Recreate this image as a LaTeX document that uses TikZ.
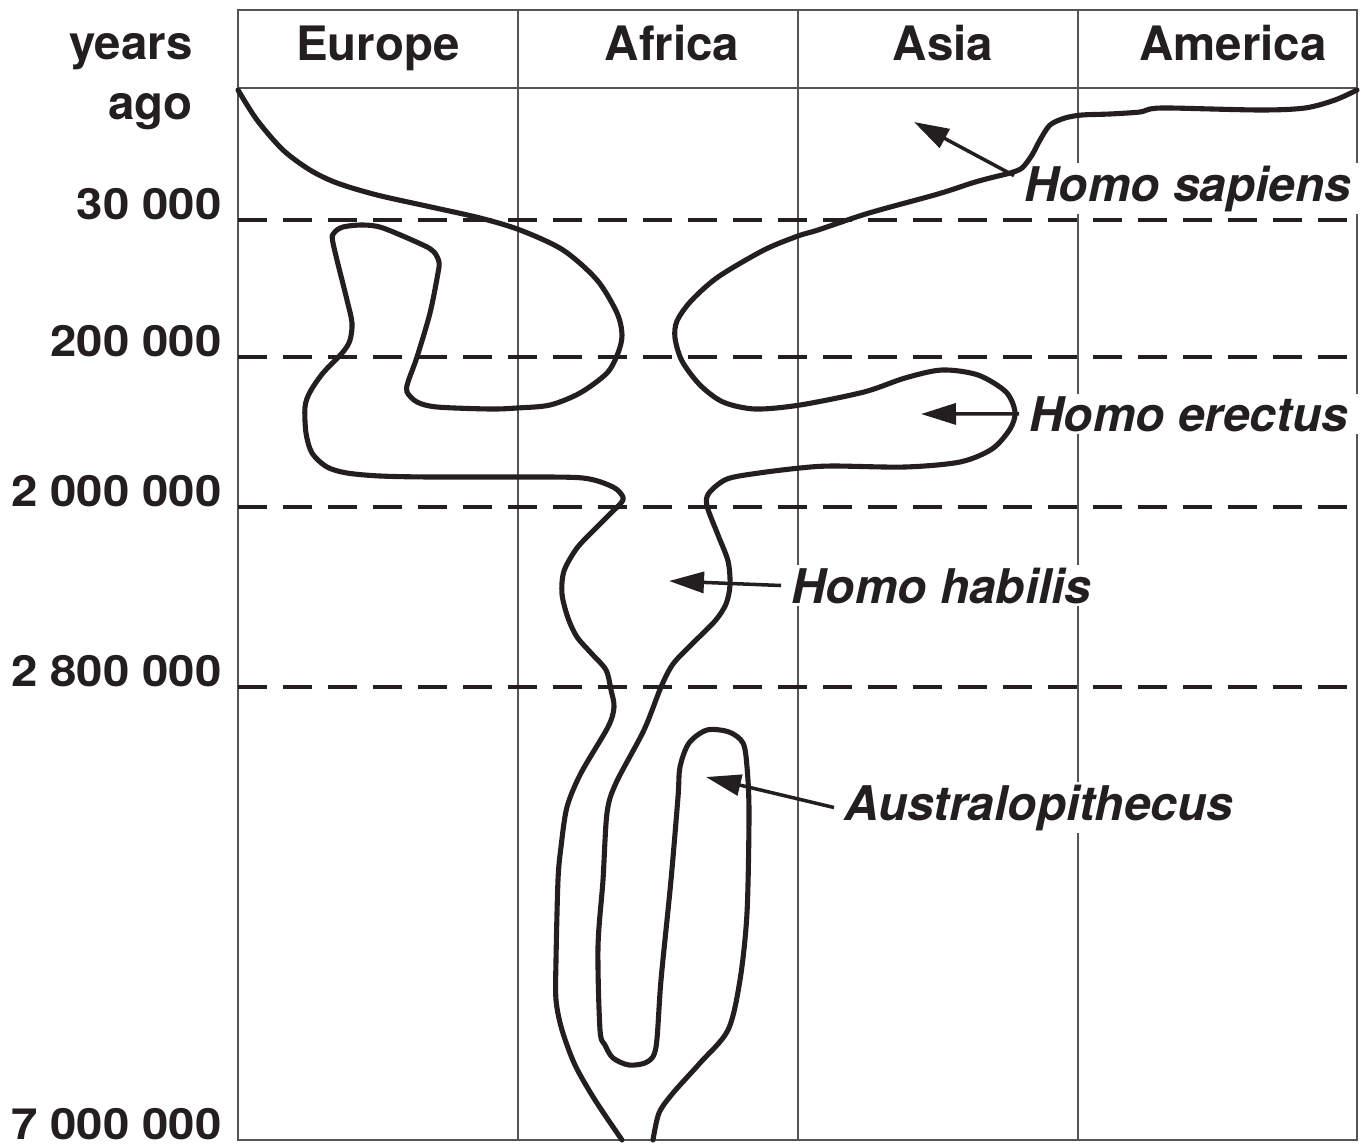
\documentclass[tikz,border=0pt]{standalone}
\usepackage{fontspec}
\setmainfont{TeX Gyre Heros}
\newfontfamily\numfont[FakeStretch=1.1]{TeX Gyre Heros}
\usetikzlibrary{arrows.meta, calc}
\definecolor{ink}{HTML}{231F20}
\definecolor{gridgray}{HTML}{555555}

\begin{document}
\begin{tikzpicture}[x=0.02cm, y=-0.02cm,
    gridline/.style={gridgray, line width=0.7pt},
    timeline/.style={ink, line width=2.2pt, dash pattern=on 0.58cm off 0.32cm},
    lineage/.style={ink, line width=2.9pt, smooth, line join=round, line cap=round},
    head/.style={font=\bfseries\fontsize{27}{34}\selectfont, text=ink, inner sep=0pt},
    age/.style={font=\numfont\bfseries\fontsize{24.5}{29}\selectfont, text=ink, anchor=base east, inner sep=0pt},
    species/.style={font=\bfseries\itshape\fontsize{27.2}{31}\selectfont, text=ink, fill=white,
                    anchor=base west, inner xsep=0.2cm, inner ysep=0.05cm},
    ptr/.style={ink, line width=2pt, -{Triangle[length=0.7cm, width=0.42cm]}}]
    \useasboundingbox (0,0) rectangle (1365,1146);

    % Table frame
    \draw[gridline] (238,10) rectangle (1357,1140);
    \draw[gridline] (238,88) -- (1357,88);
    \draw[gridline] (518,10) -- (518,1140);
    \draw[gridline] (798,10) -- (798,1140);
    \draw[gridline] (1078,10) -- (1078,1140);

    % Continents
    \node[head, anchor=base] (europe) at (378,60) {Europe};
    \node[head, anchor=base] (africa) at (672,60) {Africa};
    \node[head, anchor=base] (asia) at (943,60) {Asia};
    \node[head, anchor=base] (america) at (1233,60) {America};

    % Time scale
    \node[head, anchor=base east, align=right] (yearsago) at (193,119) {years\\ago};
    \draw[timeline] (238,220) -- (1357,220);
    \draw[timeline] (238,357) -- (1357,357);
    \draw[timeline] (238,507) -- (1357,507);
    \draw[timeline] (238,687) -- (1357,687);
    \node[age] (t30k) at (222,219) {30 000};
    \node[age] (t200k) at (222,356) {200 000};
    \node[age] (t2m) at (222,506) {2 000 000};
    \node[age] (t28m) at (222,686) {2 800 000};
    \node[age] (t7m) at (222,1139) {7 000 000};

    % Species labels
    \node[species] (sapiens) at (1014,201) {Homo sapiens};
    \node[species] (erectus) at (1019,431) {Homo erectus};
    \node[species] (habilis) at (781,603) {Homo habilis};
    \node[species] (austral) at (834,820) {Australopithecus};

    % Left outline
    \draw[lineage] plot coordinates {(238,90) (257,120) (283,150) (310,170) (337,183)
        (377,195) (431,207) (480,218) (520,230) (563,250) (597,280) (617,313)
        (622,335) (618,353) (607,373) (580,393) (550,405) (517,408) (490,409)
        (437,407) (417,402) (407,392) (408,382) (417,357) (430,313) (438,273)
        (439,262) (434,252) (423,245) (383,228) (363,225) (343,227) (334,233)
        (333,243) (347,300) (352,323) (350,340) (343,352) (323,373) (310,392)
        (305,407) (306,433) (312,453) (327,467) (347,473) (380,476) (430,477)
        (517,477) (583,478) (613,487) (623,497) (621,503) (612,512) (596,528)
        (577,548) (564,571) (562,594) (568,618) (577,637) (592,654) (606,670)
        (611,690) (614,707) (608,727) (581,773) (567,807) (561,847) (558,880)
        (556,960) (556,1000) (562,1030) (575,1065) (595,1100) (622,1140)};

    % Right outline
    \draw[lineage] plot coordinates {(1357,90) (1335,100) (1305,108) (1260,110)
        (1170,108) (1150,109) (1140,112) (1110,114) (1082,115) (1065,118)
        (1050,125) (1040,140) (1032,155) (1022,168) (1010,173) (990,178)
        (972,183) (938,194) (869,213) (818,230) (798,236) (764,250) (718,277)
        (691,301) (677,321) (675,338) (682,361) (700,385) (723,402) (755,409)
        (800,405) (864,392) (905,378) (942,370) (978,375) (1006,392) (1015,412)
        (1010,429) (992,449) (960,462) (905,467) (832,466) (800,468) (759,473)
        (727,479) (709,493) (707,506) (718,535) (728,561) (730,585) (726,604)
        (715,621) (692,644) (673,664) (661,687) (644,730) (616,783) (607,813)
        (603,880) (598,947) (600,1030) (605,1045) (613,1058) (629,1065)
        (647,1062) (656,1047) (661,980) (671,880) (678,797) (680,767) (689,743)
        (707,730) (729,732) (743,743) (747,767) (749,813) (747,913) (740,980)
        (728,1030) (700,1063) (673,1093) (659,1113) (653,1140)};

    % Pointers
    \coordinate (sapTip) at (914,122);
    \coordinate (erTip) at (921,414);
    \coordinate (habTip) at (669,581);
    \coordinate (ausTip) at (706,777);
    \draw[ptr] ($(sapiens.west)!0.5!(sapiens.north west)$) -- (sapTip);
    \draw[ptr] (erectus.west) -- (erTip);
    \draw[ptr] (habilis.west) -- (habTip);
    \draw[ptr] (austral.west) -- (ausTip);
\end{tikzpicture}
\end{document}
